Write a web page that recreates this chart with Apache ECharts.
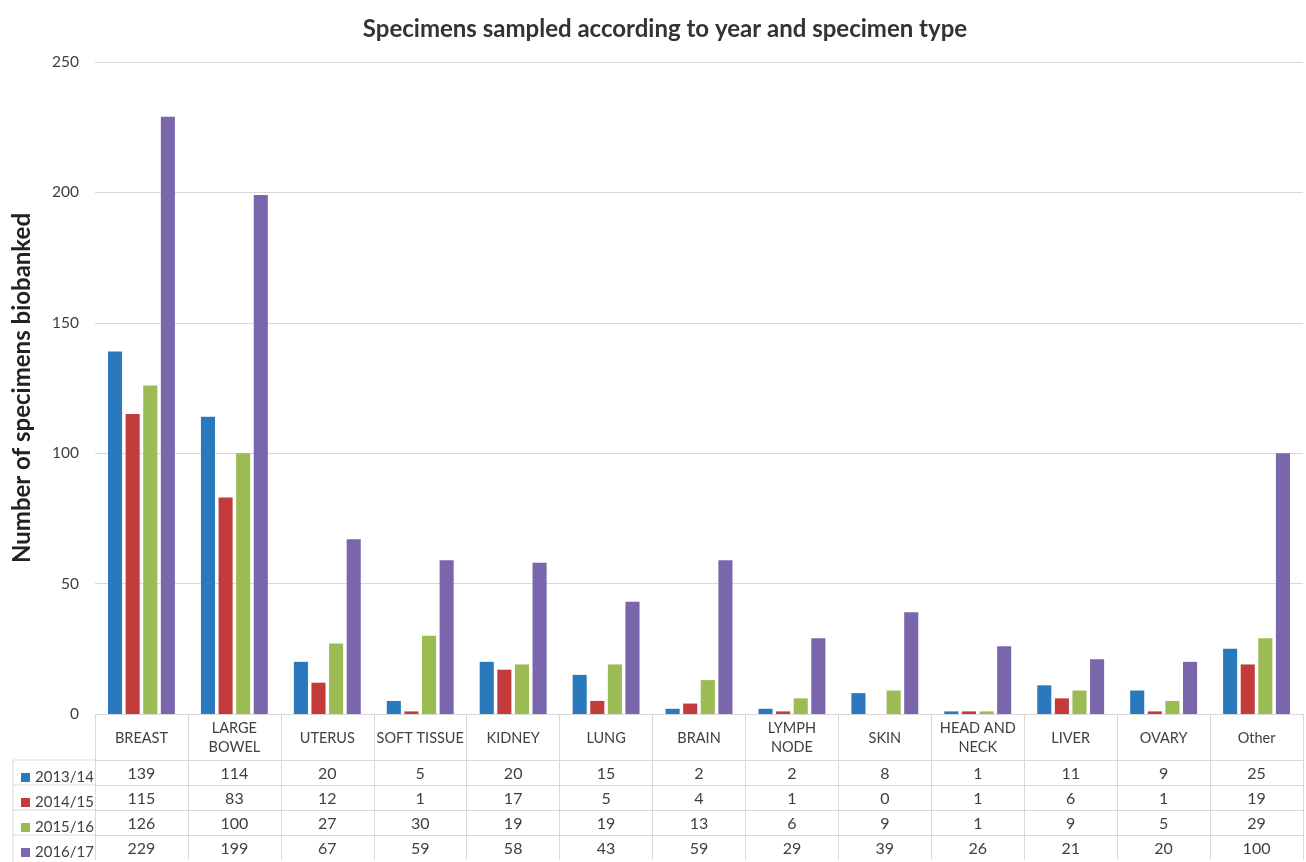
<!DOCTYPE html>
<html>
<head>
<meta charset="utf-8">
<script src="https://cdn.jsdelivr.net/npm/echarts@6/dist/echarts.min.js"></script>
<style>
  html, body { margin: 0; padding: 0; background: #fff; }
  #chart { width: 1306px; height: 862px; }
</style>
</head>
<body>
<div id="chart"></div>
<script>
const categories = ['BREAST', 'LARGE\nBOWEL', 'UTERUS', 'SOFT TISSUE', 'KIDNEY', 'LUNG', 'BRAIN',
  'LYMPH\nNODE', 'SKIN', 'HEAD AND\nNECK', 'LIVER', 'OVARY', 'Other'];
const years = ['2013/14', '2014/15', '2015/16', '2016/17'];
const y2013 = [139, 114, 20, 5, 20, 15, 2, 2, 8, 1, 11, 9, 25];
const y2014 = [115, 83, 12, 1, 17, 5, 4, 1, 0, 1, 6, 1, 19];
const y2015 = [126, 100, 27, 30, 19, 19, 13, 6, 9, 1, 9, 5, 29];
const y2016 = [229, 199, 67, 59, 58, 43, 59, 29, 39, 26, 21, 20, 100];
const yTicks = [0, 50, 100, 150, 200, 250];

const seriesData = [y2013, y2014, y2015, y2016];
const colors = ['#2a79bd', '#c43b3c', '#9bbb53', '#7a66ad'];

const FONT = 'Lato, "Open Sans", sans-serif';
const textColor = '#404040';
const lineColor = '#d9d9d9';

const H = 862;
const gridLeft = 95, gridRight = 3, gridTop = 62, gridBottom = 148;
const headerH = 46, rowH = 25;
const tableTop = H - gridBottom + headerH;

const chart = echarts.init(document.getElementById('chart'), null, { renderer: 'canvas' });

// extra x axes act as the rows of the data table
const tableAxes = seriesData.map((arr, k) => ({
  type: 'category',
  data: categories,
  position: 'bottom',
  offset: headerH + rowH * k,
  axisLine: { show: true, lineStyle: { color: lineColor, width: 1 } },
  axisTick: { show: false },
  axisLabel: {
    interval: 0,
    margin: rowH / 2 + 1,
    verticalAlign: 'middle',
    color: textColor,
    fontFamily: FONT,
    fontSize: 16,
    formatter: (v, i) => String(arr[i])
  }
}));

// one legend per table row, so each key sits in its own row
const legends = years.map((y, k) => ({
  orient: 'vertical',
  left: 16,
  top: tableTop + rowH * k + rowH / 2 - 9,
  data: [y],
  icon: 'rect',
  itemWidth: 9,
  itemHeight: 9,
  itemGap: 3,
  selectedMode: false,
  textStyle: { fontFamily: FONT, fontSize: 15, color: textColor, lineHeight: 18 }
}));

const option = {
  backgroundColor: '#fff',
  color: colors,
  title: {
    text: 'Specimens sampled according to year and specimen type',
    left: 660,
    textAlign: 'center',
    top: 12,
    textStyle: { fontFamily: FONT, fontSize: 24, fontWeight: 'bold', color: '#333' }
  },
  grid: { left: gridLeft, right: gridRight, top: gridTop, bottom: gridBottom, outerBoundsMode: 'none', containLabel: false },
  legend: legends,
  xAxis: [{
    type: 'category',
    data: categories,
    position: 'bottom',
    axisLine: { show: true, lineStyle: { color: lineColor, width: 1 } },
    axisTick: { show: true, length: headerH + rowH * 4, lineStyle: { color: lineColor } },
    axisLabel: {
      interval: 0,
      margin: headerH / 2 + 1,
      verticalAlign: 'middle',
      color: textColor,
      fontFamily: FONT,
      fontSize: 14.5,
      lineHeight: 19
    }
  }].concat(tableAxes),
  yAxis: {
    type: 'value',
    min: yTicks[0],
    max: yTicks[yTicks.length - 1],
    interval: 50,
    name: 'Number of specimens biobanked',
    nameLocation: 'middle',
    nameGap: 61,
    nameTextStyle: { fontFamily: FONT, fontSize: 24, fontWeight: 'bold', color: '#222' },
    axisLine: { show: false },
    axisTick: { show: false },
    axisLabel: { color: textColor, fontFamily: FONT, fontSize: 15.5, margin: 16 },
    splitLine: { lineStyle: { color: lineColor } }
  },
  graphic: [
    // left part of the table row borders, under the legend keys
    ...[0, 1, 2, 3].map(k => ({
      type: 'line',
      shape: { x1: 13, y1: tableTop + rowH * k, x2: gridLeft, y2: tableTop + rowH * k },
      style: { stroke: lineColor, lineWidth: 1 }
    })),
    {
      type: 'line',
      shape: { x1: 13, y1: tableTop, x2: 13, y2: H },
      style: { stroke: lineColor, lineWidth: 1 }
    }
  ],
  series: seriesData.map((arr, k) => ({
    name: years[k],
    type: 'bar',
    data: arr,
    barGap: '25%',
    barCategoryGap: '28%',
    itemStyle: { color: colors[k] }
  }))
};

chart.setOption(option);
</script>
</body>
</html>
